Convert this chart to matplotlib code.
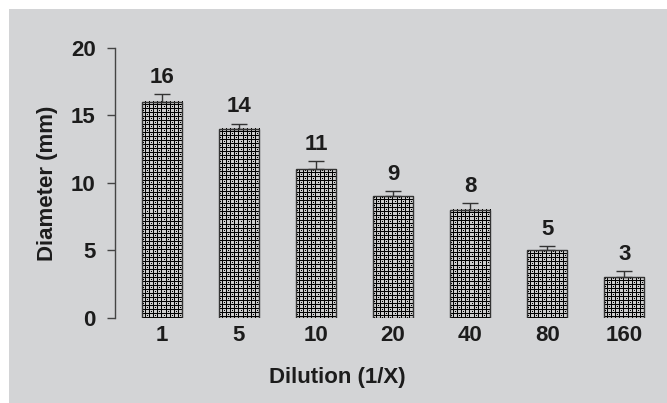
import matplotlib
matplotlib.use("Agg")
import matplotlib.pyplot as plt
import numpy as np
from matplotlib.patches import Rectangle

# Data
dilutions = ["1", "5", "10", "20", "40", "80", "160"]
diameters = [16, 14, 11, 9, 8, 5, 3]
errors = [0.6, 0.4, 0.6, 0.4, 0.5, 0.3, 0.5]

plt.rcParams['font.family'] = ['Liberation Sans', 'DejaVu Sans']
txt = '#1c1c1c'

fig = plt.figure(figsize=(6.67, 4.03), dpi=100)
fig.patch.set_facecolor('white')
# gray panel behind the chart
fig.patches.append(Rectangle((9 / 667, 0), 1, 1 - 9 / 403, transform=fig.transFigure,
                             facecolor='#d3d4d6', edgecolor='none', zorder=-10))

ax = fig.add_axes([0.1724, 0.211, 0.8096, 0.670])
ax.set_facecolor('none')
ax.set_xlim(-0.61, 6.4)
ax.set_ylim(0, 20)

x = list(range(len(dilutions)))
bars = ax.bar(x, diameters, width=0.52, facecolor='none', edgecolor='#333333',
              linewidth=1.0, zorder=3)
ax.errorbar(x, diameters, yerr=[[0] * len(errors), errors], fmt='none',
            ecolor='#333333', elinewidth=1.0, capsize=6, capthick=1.0, zorder=3)

# checkered fill: white squares on a dark grid, dark centre in every other square
tile = np.ones((8, 8))
tile[3, :] = 0
tile[7, :] = 0
tile[:, 3] = 0
tile[:, 7] = 0
tile[1, 1] = 0
tile[5, 5] = 0
for b in bars:
    bb = b.get_window_extent(renderer=fig.canvas.get_renderer())
    w, h = int(round(bb.width)), int(round(bb.height))
    pat = np.tile(tile, (h // 8 + 1, w // 8 + 1))[:h, :w]
    x0, y0 = b.get_x(), b.get_y()
    ax.imshow(pat, cmap='gray', vmin=0, vmax=1.25, interpolation='nearest',
              extent=(x0, x0 + b.get_width(), y0, y0 + b.get_height()),
              aspect='auto', origin='upper', zorder=2, clip_path=b)

ax.set_xlim(-0.61, 6.4)
ax.set_ylim(0, 20)

for xi, d, e in zip(x, diameters, errors):
    ax.text(xi, d + e + 0.45, str(d), ha='center', va='bottom',
            fontsize=16, fontweight='bold', color=txt)

ax.set_yticks([0, 5, 10, 15, 20])
ax.set_xticks(x)
ax.set_xticklabels(dilutions)

for side in ['top', 'right', 'bottom']:
    ax.spines[side].set_visible(False)
ax.spines['left'].set_color('#444444')
ax.spines['left'].set_linewidth(1.0)
ax.tick_params(axis='y', length=6, width=1.0, color='#444444', pad=8,
               labelsize=16, labelcolor=txt)
ax.tick_params(axis='x', length=0, pad=5, labelsize=16, labelcolor=txt)
for lab in ax.get_xticklabels() + ax.get_yticklabels():
    lab.set_fontweight('bold')

ax.set_ylabel("Diameter (mm)", fontsize=16, fontweight='bold', color=txt, labelpad=9)
fig.text(337 / 667, 1 - 378 / 403, "Dilution (1/X)", ha='center', va='center',
         fontsize=16, fontweight='bold', color=txt)

fig.savefig("out.png", dpi=100)
